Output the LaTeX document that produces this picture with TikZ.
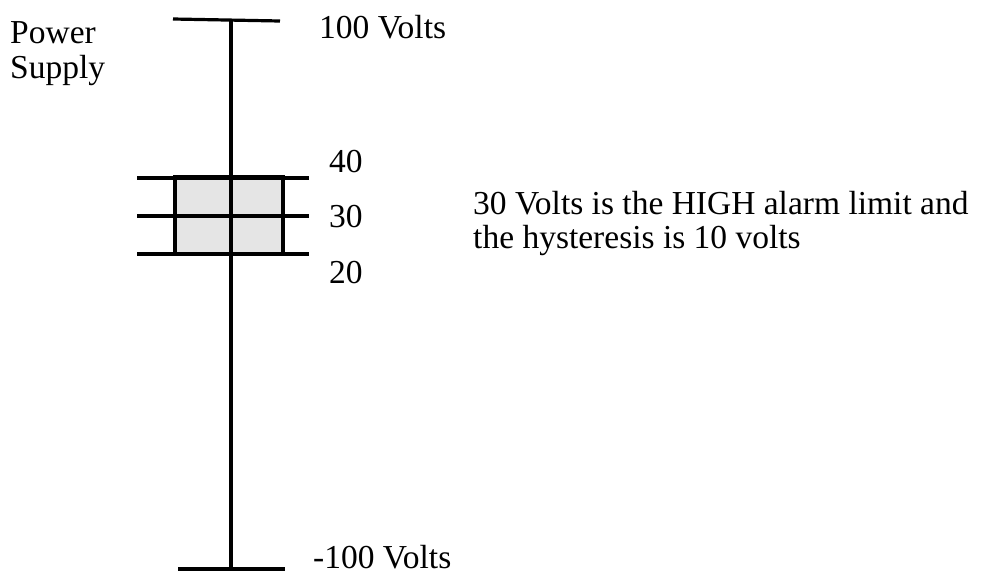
\documentclass[tikz,border=0pt]{standalone}
\usepackage{fontspec}
\setmainfont{Liberation Serif}
\begin{document}
\begin{tikzpicture}[x=1pt,y=-1pt,
  tick/.style={line width=3.2pt},
  lbl/.style={inner sep=0pt,anchor=west,font=\fontsize{33.5}{37}\selectfont},
  band/.style={draw,line width=3.4pt,fill=black!10}]
\useasboundingbox (0,0) rectangle (982,574);
\coordinate (top) at (231,19);
\coordinate (bot) at (231,568);
\node[band,minimum width=108pt,minimum height=77pt,inner sep=0pt] (box) at (229,215.5) {};
\draw[tick] (173,19) -- (280,21);
\draw[tick] (178,569) -- (285,569);
\draw[tick] (top) -- (bot);
\draw[tick] (137,178) -- (309,178);
\draw[tick] (137,216) -- (309,216);
\draw[tick] (137,254) -- (309,254);
\node[lbl] (p) at (10,33) {Power};
\node[lbl] (s) at (10,70) {Supply};
\node[lbl] (h) at (319,27) {100 Volts};
\node[lbl] (l) at (313,557) {-100 Volts};
\node[lbl] (a) at (329,162) {40};
\node[lbl] (b) at (329,217) {30};
\node[lbl] (c) at (329,273) {20};
\node[lbl] (t1) at (473,203) {30 Volts is the HIGH alarm limit and};
\node[lbl] (t2) at (473,240) {the hysteresis is 10 volts};
\end{tikzpicture}
\end{document}
